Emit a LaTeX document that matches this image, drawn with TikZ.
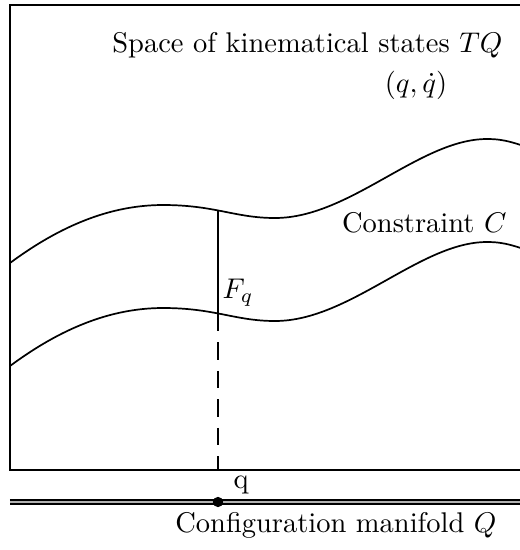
\documentclass[tikz,border=0pt]{standalone}
\usepackage{amsmath, amssymb}
\usepackage{tikz}
\usetikzlibrary{positioning}

\begin{document}
\begin{tikzpicture}[
      x=0.351pt, y=-0.351pt,
      frame/.style={line width=0.7pt},
      curve/.style={line width=0.6pt},
      fiber/.style={line width=0.6pt},
      proj/.style={line width=0.6pt, dash pattern=on 6pt off 4pt},
      manifold/.style={double=gray!60, line width=0.7pt, double distance=0.4pt},
      label/.style={inner sep=0pt},
  ]
    \useasboundingbox (0,0) rectangle (519,550);

    % frame of TQ, open on the right
    \coordinate (tr) at (530,5);
    \coordinate (tl) at (10,5);
    \coordinate (bl) at (10,470);
    \coordinate (br) at (530,470);
    \draw[frame] (tr) -- (tl) -- (bl) -- (br);

    % the two sheets of the constraint
    \draw[curve] (10,263) .. controls (60,226) and (110,205) .. (163,205)
        .. controls (215,205) and (235,218) .. (275,218)
        .. controls (350,218) and (420,139) .. (487,139)
        .. controls (505,139) and (515,143) .. (535,150);
    \draw[curve] (10,366) .. controls (60,329) and (110,308) .. (163,308)
        .. controls (215,308) and (235,321) .. (275,321)
        .. controls (350,321) and (420,242) .. (487,242)
        .. controls (505,242) and (515,246) .. (535,253);

    \coordinate (ftop) at (218,211);
    \coordinate (fbot) at (218,314);
    \coordinate (fproj) at (218,470);

    % base manifold
    \coordinate (ml) at (10,502);
    \coordinate (mr) at (530,502);
    \draw[manifold] (ml) -- (mr);
    \node[circle, fill=black, inner sep=0pt, minimum size=3.6pt] (q) at (218,502) {};

    \draw[fiber] (ftop) -- (fbot);
    \draw[proj] (fbot) -- (fproj);

    \node[label, anchor=base east] (tq) at (503,52) {Space of kinematical states $TQ$};
    \node[label] (qqdot) at (416,85) {$(q,\dot q)$};
    \node[label, anchor=base east] (cons) at (507,232) {Constraint $C$};
    \node[label, anchor=west] (fq) at (222,293) {$F_q$};
    \node[label, anchor=base west] (qlab) at (233,488) {q};
    \node[label, anchor=base east] (conf) at (497,532) {Configuration manifold $Q$};

  \end{tikzpicture}
\end{document}
